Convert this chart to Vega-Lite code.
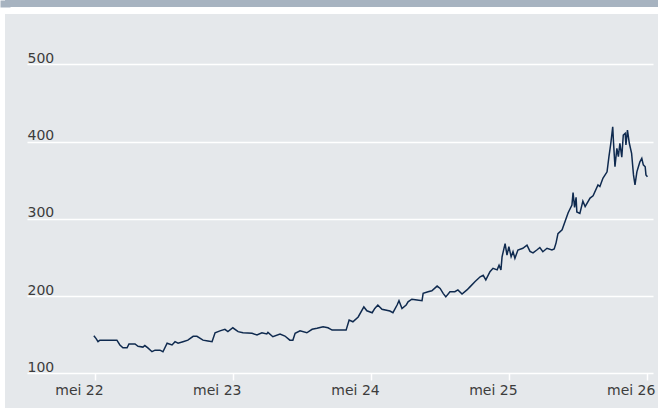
{
  "$schema": "https://vega.github.io/schema/vega-lite/v6.json",
  "padding": {"left": 5, "top": 0, "right": 0, "bottom": 0},
  "background": "white",
  "spacing": 7,
  "config": {"view": {"stroke": null}},
  "vconcat": [
    {
      "width": 653,
      "height": 7,
      "view": {"fill": "#a7b3c0", "stroke": null},
      "data": {"values": []},
      "mark": "point",
      "encoding": {
        "y": {
          "field": "v",
          "type": "quantitative",
          "scale": {"domain": [0, 1]},
          "axis": {"domain": true, "domainColor": "#a7b3c0", "domainWidth": 10, "ticks": false, "labels": false, "grid": false, "title": null}
        }
      }
    },
    {
      "width": 653,
      "height": 394,
      "view": {"fill": "#e5e8eb", "stroke": null},
      "data": {
        "values": [
          {"date": "2022-04-28", "value": 148.7},
          {"date": "2022-05-04", "value": 145},
          {"date": "2022-05-09", "value": 141},
          {"date": "2022-05-14", "value": 143},
          {"date": "2022-06-28", "value": 143},
          {"date": "2022-07-06", "value": 136.7},
          {"date": "2022-07-14", "value": 133},
          {"date": "2022-07-25", "value": 133},
          {"date": "2022-07-30", "value": 138},
          {"date": "2022-08-15", "value": 138},
          {"date": "2022-08-23", "value": 135},
          {"date": "2022-09-05", "value": 134},
          {"date": "2022-09-10", "value": 136},
          {"date": "2022-09-18", "value": 133},
          {"date": "2022-09-29", "value": 128},
          {"date": "2022-10-07", "value": 130},
          {"date": "2022-10-20", "value": 130},
          {"date": "2022-10-28", "value": 128},
          {"date": "2022-11-08", "value": 139},
          {"date": "2022-11-21", "value": 136.7},
          {"date": "2022-11-29", "value": 141},
          {"date": "2022-12-07", "value": 139},
          {"date": "2022-12-20", "value": 141},
          {"date": "2023-01-02", "value": 143},
          {"date": "2023-01-16", "value": 148},
          {"date": "2023-01-26", "value": 148},
          {"date": "2023-02-11", "value": 143},
          {"date": "2023-02-24", "value": 142},
          {"date": "2023-03-07", "value": 141},
          {"date": "2023-03-15", "value": 152.6},
          {"date": "2023-03-28", "value": 155},
          {"date": "2023-04-10", "value": 157},
          {"date": "2023-04-18", "value": 154},
          {"date": "2023-05-01", "value": 159},
          {"date": "2023-05-15", "value": 154},
          {"date": "2023-05-28", "value": 152.6},
          {"date": "2023-06-21", "value": 151.8},
          {"date": "2023-07-04", "value": 149.6},
          {"date": "2023-07-17", "value": 152.6},
          {"date": "2023-07-30", "value": 151},
          {"date": "2023-08-02", "value": 153},
          {"date": "2023-08-15", "value": 147.4},
          {"date": "2023-09-03", "value": 151},
          {"date": "2023-09-16", "value": 148.3},
          {"date": "2023-09-29", "value": 143},
          {"date": "2023-10-07", "value": 143},
          {"date": "2023-10-13", "value": 151.8},
          {"date": "2023-10-26", "value": 155},
          {"date": "2023-11-13", "value": 152.5},
          {"date": "2023-11-27", "value": 157},
          {"date": "2023-12-10", "value": 158.3},
          {"date": "2023-12-26", "value": 160.4},
          {"date": "2024-01-08", "value": 159},
          {"date": "2024-01-19", "value": 156},
          {"date": "2024-02-25", "value": 156},
          {"date": "2024-03-04", "value": 169},
          {"date": "2024-03-14", "value": 166.8},
          {"date": "2024-03-28", "value": 173},
          {"date": "2024-04-12", "value": 186},
          {"date": "2024-04-20", "value": 181},
          {"date": "2024-05-04", "value": 178.5},
          {"date": "2024-05-11", "value": 184},
          {"date": "2024-05-19", "value": 188.5},
          {"date": "2024-05-30", "value": 183},
          {"date": "2024-06-20", "value": 180.7},
          {"date": "2024-06-28", "value": 178.5},
          {"date": "2024-07-09", "value": 188.5},
          {"date": "2024-07-14", "value": 194},
          {"date": "2024-07-22", "value": 184},
          {"date": "2024-08-02", "value": 188.5},
          {"date": "2024-08-07", "value": 192.7},
          {"date": "2024-08-17", "value": 196},
          {"date": "2024-08-31", "value": 195},
          {"date": "2024-09-13", "value": 194},
          {"date": "2024-09-16", "value": 203.6},
          {"date": "2024-09-29", "value": 205.7},
          {"date": "2024-10-09", "value": 207},
          {"date": "2024-10-23", "value": 213},
          {"date": "2024-10-31", "value": 210},
          {"date": "2024-11-08", "value": 203.6},
          {"date": "2024-11-15", "value": 199},
          {"date": "2024-11-26", "value": 205.7},
          {"date": "2024-12-09", "value": 205.7},
          {"date": "2024-12-17", "value": 208},
          {"date": "2024-12-28", "value": 202.7},
          {"date": "2025-01-10", "value": 208},
          {"date": "2025-01-18", "value": 212},
          {"date": "2025-01-31", "value": 218.7},
          {"date": "2025-02-14", "value": 225},
          {"date": "2025-02-22", "value": 227},
          {"date": "2025-03-01", "value": 221},
          {"date": "2025-03-12", "value": 231.6},
          {"date": "2025-03-20", "value": 236},
          {"date": "2025-03-31", "value": 234},
          {"date": "2025-04-05", "value": 240},
          {"date": "2025-04-10", "value": 234},
          {"date": "2025-04-13", "value": 251},
          {"date": "2025-04-21", "value": 268},
          {"date": "2025-04-26", "value": 253},
          {"date": "2025-05-01", "value": 264},
          {"date": "2025-05-07", "value": 251},
          {"date": "2025-05-12", "value": 257.5},
          {"date": "2025-05-17", "value": 249},
          {"date": "2025-05-25", "value": 259.7},
          {"date": "2025-06-07", "value": 262},
          {"date": "2025-06-18", "value": 266},
          {"date": "2025-06-26", "value": 258},
          {"date": "2025-07-04", "value": 256},
          {"date": "2025-07-14", "value": 259.7},
          {"date": "2025-07-22", "value": 263},
          {"date": "2025-07-30", "value": 257.5},
          {"date": "2025-08-10", "value": 262},
          {"date": "2025-08-23", "value": 259.7},
          {"date": "2025-08-29", "value": 261},
          {"date": "2025-09-03", "value": 269},
          {"date": "2025-09-08", "value": 281},
          {"date": "2025-09-19", "value": 286},
          {"date": "2025-09-27", "value": 297},
          {"date": "2025-10-05", "value": 308},
          {"date": "2025-10-15", "value": 318},
          {"date": "2025-10-18", "value": 334},
          {"date": "2025-10-22", "value": 315},
          {"date": "2025-10-26", "value": 328},
          {"date": "2025-10-28", "value": 309},
          {"date": "2025-11-05", "value": 307},
          {"date": "2025-11-13", "value": 323},
          {"date": "2025-11-19", "value": 316},
          {"date": "2025-12-02", "value": 327},
          {"date": "2025-12-10", "value": 330},
          {"date": "2025-12-23", "value": 344},
          {"date": "2025-12-28", "value": 342},
          {"date": "2026-01-05", "value": 352.6},
          {"date": "2026-01-16", "value": 361},
          {"date": "2026-01-21", "value": 380.6},
          {"date": "2026-01-26", "value": 398},
          {"date": "2026-01-31", "value": 419.4},
          {"date": "2026-02-02", "value": 400},
          {"date": "2026-02-06", "value": 367.6},
          {"date": "2026-02-11", "value": 391.5},
          {"date": "2026-02-15", "value": 380.6},
          {"date": "2026-02-19", "value": 398},
          {"date": "2026-02-24", "value": 380},
          {"date": "2026-02-28", "value": 408.7},
          {"date": "2026-03-05", "value": 410.9},
          {"date": "2026-03-07", "value": 395.7},
          {"date": "2026-03-11", "value": 415},
          {"date": "2026-03-16", "value": 398},
          {"date": "2026-03-22", "value": 385},
          {"date": "2026-03-27", "value": 357},
          {"date": "2026-03-31", "value": 344},
          {"date": "2026-04-05", "value": 361},
          {"date": "2026-04-09", "value": 367.6},
          {"date": "2026-04-13", "value": 374},
          {"date": "2026-04-18", "value": 378.5},
          {"date": "2026-04-22", "value": 370},
          {"date": "2026-04-27", "value": 367.6},
          {"date": "2026-04-29", "value": 357},
          {"date": "2026-05-03", "value": 354.7}
        ]
      },
      "mark": {"type": "line", "color": "#0f2a4f", "strokeWidth": 1.5},
      "encoding": {
        "x": {
          "field": "date",
          "type": "temporal",
          "scale": {
            "type": "utc",
            "domain": [
              {"year": 2021, "month": 9, "date": 4, "hours": 17, "utc": true},
              {"year": 2026, "month": 5, "date": 30, "hours": 22, "utc": true}
            ]
          },
          "axis": {
            "orient": "bottom",
            "offset": -35,
            "values": [
              {"year": 2022, "month": 5, "date": 1, "utc": true},
              {"year": 2023, "month": 5, "date": 1, "utc": true},
              {"year": 2024, "month": 5, "date": 1, "utc": true},
              {"year": 2025, "month": 5, "date": 1, "utc": true},
              {"year": 2026, "month": 5, "date": 1, "utc": true}
            ],
            "domain": false,
            "grid": false,
            "ticks": true,
            "tickColor": "white",
            "tickSize": 7,
            "tickWidth": 1.5,
            "labelExpr": "'mei ' + utcFormat(datum.value, '%y')",
            "labelOffset": -16,
            "labelPadding": 3,
            "labelFont": "DejaVu Sans",
            "labelFontSize": 14,
            "labelColor": "#3c3c3c",
            "labelFlush": false,
            "labelOverlap": false,
            "title": null
          }
        },
        "y": {
          "field": "value",
          "type": "quantitative",
          "scale": {"domain": [55.1, 565.4], "nice": false, "zero": false},
          "axis": {
            "orient": "left",
            "offset": -22,
            "values": [100, 200, 300, 400, 500],
            "grid": false,
            "domain": false,
            "ticks": true,
            "tickColor": "white",
            "tickWidth": 1.5,
            "tickSize": -626,
            "labelAlign": "left",
            "labelBaseline": "alphabetic",
            "labelPadding": 626,
            "labelOffset": -2,
            "labelFont": "DejaVu Sans",
            "labelFontSize": 14,
            "labelColor": "#3c3c3c",
            "labelFlush": false,
            "labelOverlap": false,
            "title": null
          }
        }
      }
    }
  ]
}
